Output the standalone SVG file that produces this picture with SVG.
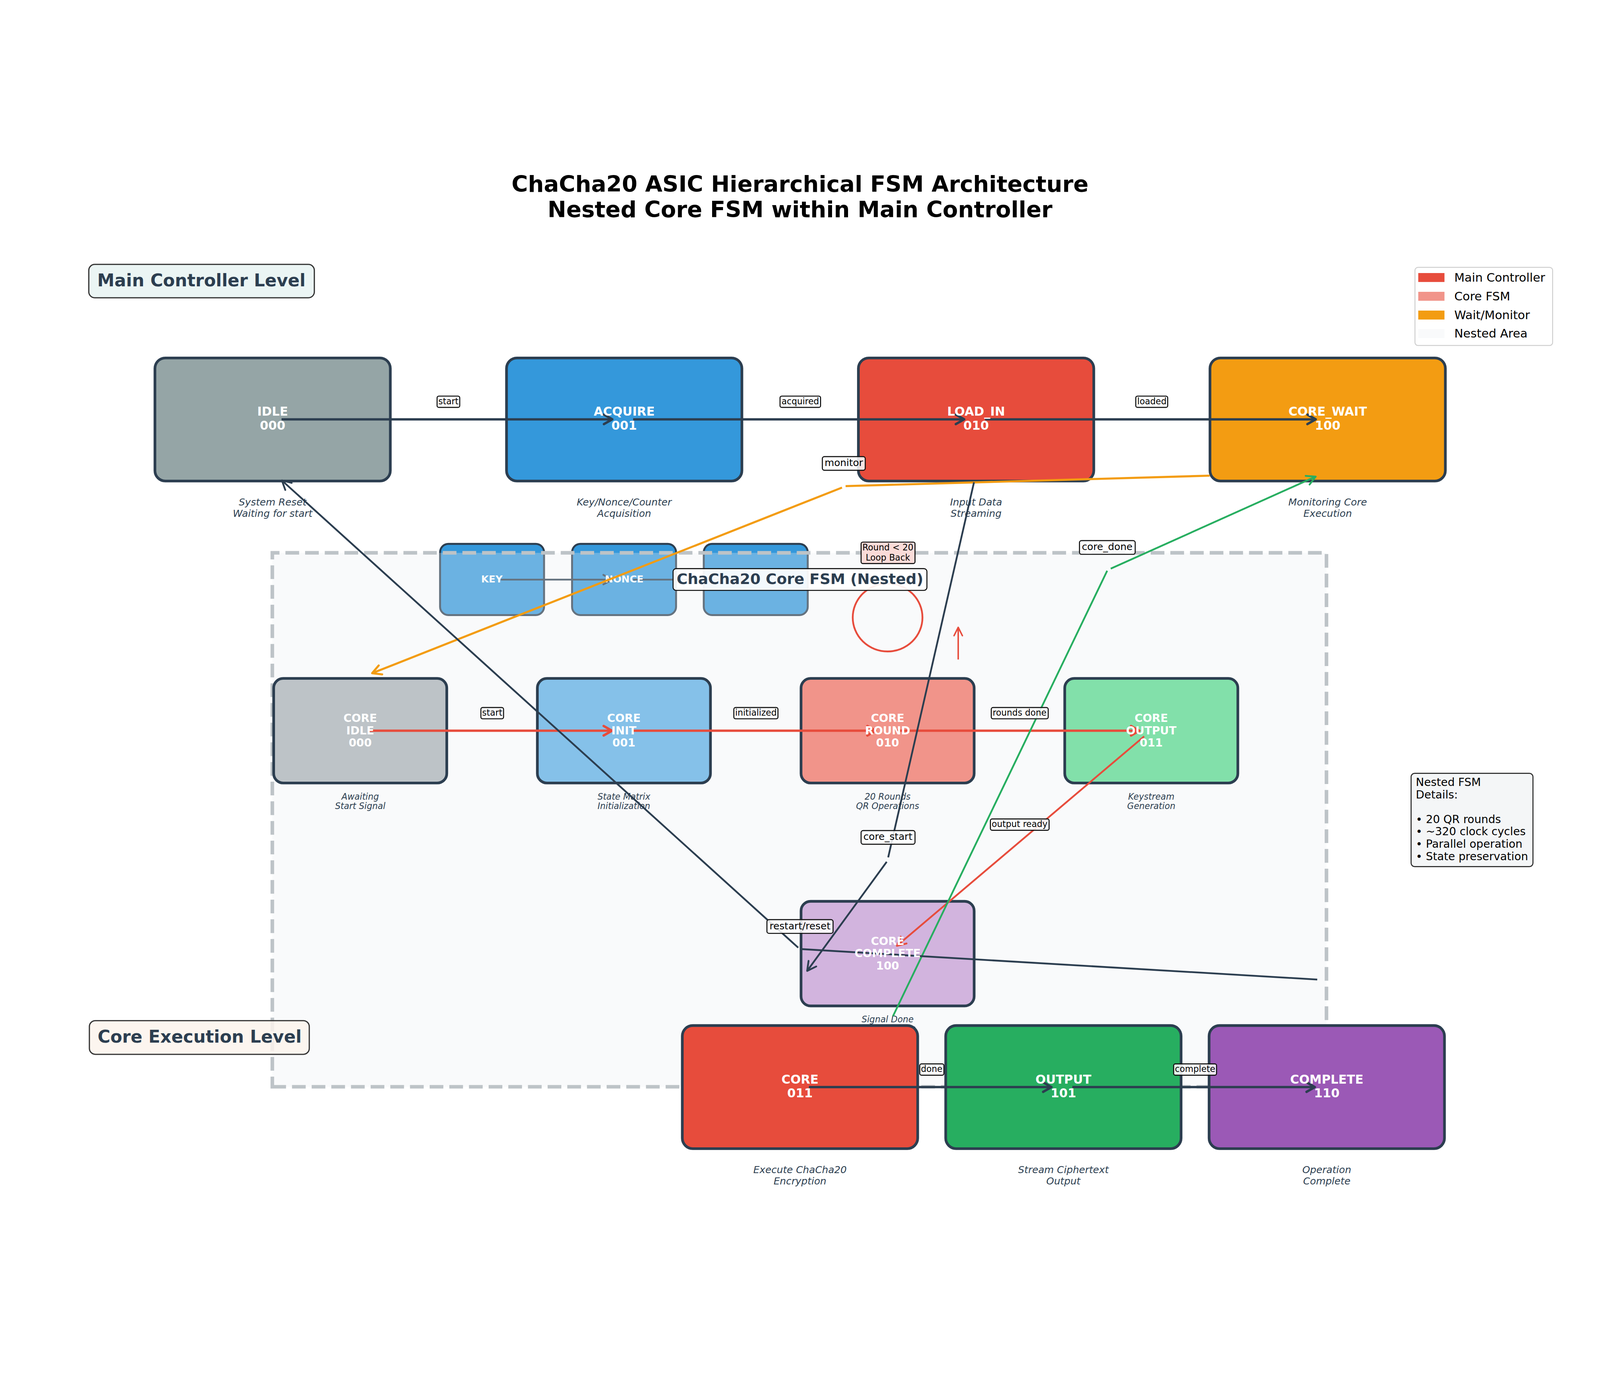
<svg xmlns="http://www.w3.org/2000/svg" width="5370" height="3571" viewBox="0 0 5370 3571" style="width:100vw;height:100vh;display:block" preserveAspectRatio="xMidYMid meet">
<defs>
<style>
text{font-family:"DejaVu Sans","Liberation Sans",sans-serif;}
.title{font-size:75px;font-weight:bold;fill:#000;text-anchor:middle;}
.lvl rect{stroke:#333333;stroke-width:4;}
.lvl text{font-size:58px;font-weight:bold;fill:#2c3e50;text-anchor:middle;}
.box{stroke:#2c3e50;stroke-width:9;}
.sbox{stroke:#2c3e50;stroke-width:6.5;fill:#3498db;}
.nl{font-weight:bold;fill:#ffffff;text-anchor:middle;}
.big{font-size:41px;}
.cor{font-size:37px;}
.sm{font-size:33px;}
.desc{font-style:italic;fill:#2c3e50;text-anchor:middle;}
.d8{font-size:33px;}
.d7{font-size:29px;}
.lab rect{fill:#ffffff;fill-opacity:0.85;stroke:#111111;stroke-width:3.5;}
.lab text{fill:#000;text-anchor:middle;}
.l7 text{font-size:29px;}
.l8 text{font-size:33px;}
.c{fill:none;stroke-linecap:butt;}
.dk8{stroke:#2c3e50;stroke-width:8;}
.dk6{stroke:#2c3e50;stroke-width:6;}
.rd8{stroke:#e74c3c;stroke-width:8;}
.rd6{stroke:#e74c3c;stroke-width:6;}
.og{stroke:#f39c12;stroke-width:7;}
.gn{stroke:#27ae60;stroke-width:6;}
.mh{fill:none;stroke-linecap:round;stroke-linejoin:round;}
.leg text{font-size:40px;fill:#000;}
.det text{font-size:37px;fill:#000;}
</style>
<marker id="m-dk8" viewBox="-45 -30 60 60" refX="0" refY="0" markerWidth="60" markerHeight="60" markerUnits="userSpaceOnUse" orient="auto"><path class="mh" d="M-28,-16 L0,0 L-28,16" stroke="#2c3e50" stroke-width="8"/></marker>
<marker id="m-dk6" viewBox="-45 -30 60 60" refX="0" refY="0" markerWidth="60" markerHeight="60" markerUnits="userSpaceOnUse" orient="auto"><path class="mh" d="M-30,-16 L0,0 L-30,16" stroke="#2c3e50" stroke-width="6"/></marker>
<marker id="m-rd8" viewBox="-45 -30 60 60" refX="0" refY="0" markerWidth="60" markerHeight="60" markerUnits="userSpaceOnUse" orient="auto"><path class="mh" d="M-28,-16 L0,0 L-28,16" stroke="#e74c3c" stroke-width="8"/></marker>
<marker id="m-rd6" viewBox="-45 -30 60 60" refX="0" refY="0" markerWidth="60" markerHeight="60" markerUnits="userSpaceOnUse" orient="auto"><path class="mh" d="M-30,-15 L0,0 L-30,15" stroke="#e74c3c" stroke-width="6"/></marker>
<marker id="m-rd5" viewBox="-45 -30 60 60" refX="0" refY="0" markerWidth="60" markerHeight="60" markerUnits="userSpaceOnUse" orient="auto"><path class="mh" d="M-28,-14 L0,0 L-28,14" stroke="#e74c3c" stroke-width="5"/></marker>
<marker id="m-og" viewBox="-45 -30 60 60" refX="0" refY="0" markerWidth="60" markerHeight="60" markerUnits="userSpaceOnUse" orient="auto"><path class="mh" d="M-30,-16 L0,0 L-30,16" stroke="#f39c12" stroke-width="7"/></marker>
<marker id="m-gn" viewBox="-45 -30 60 60" refX="0" refY="0" markerWidth="60" markerHeight="60" markerUnits="userSpaceOnUse" orient="auto"><path class="mh" d="M-30,-16 L0,0 L-30,16" stroke="#27ae60" stroke-width="6"/></marker>
</defs>
<rect x="0" y="0" width="5370" height="3571" fill="#ffffff"/>

<g id="title">
<text class="title" x="2685" y="89">ChaCha20 ASIC Hierarchical FSM Architecture</text>
<text class="title" x="2685" y="174">Nested Core FSM within Main Controller</text>
</g>

<g id="level-main" class="lvl">
<rect x="298" y="332" width="757" height="112" rx="20" fill="#ebf5f4"/>
<text x="676" y="405">Main Controller Level</text>
</g>

<!-- top row nodes -->
<g id="node-idle">
<rect class="box" x="520" y="646" width="790" height="413" rx="35" fill="#95a5a6"/>
<text class="desc d8" x="915" y="1141">System Reset</text>
<text class="desc d8" x="915" y="1179">Waiting for start</text>
</g>
<g id="node-acquire">
<rect class="box" x="1700" y="646" width="790" height="413" rx="35" fill="#3498db"/>
<text class="desc d8" x="2095" y="1141">Key/Nonce/Counter</text>
<text class="desc d8" x="2095" y="1179">Acquisition</text>
</g>
<g id="node-load-in">
<rect class="box" x="2881" y="646" width="790" height="413" rx="35" fill="#e74c3c"/>
<text class="desc d8" x="3276" y="1141">Input Data</text>
<text class="desc d8" x="3276" y="1179">Streaming</text>
</g>
<g id="node-core-wait">
<rect class="box" x="4061" y="646" width="790" height="413" rx="35" fill="#f39c12"/>
<text class="desc d8" x="4456" y="1141">Monitoring Core</text>
<text class="desc d8" x="4456" y="1179">Execution</text>
</g>

<!-- data boxes under the nested area overlay -->
<g id="node-key">
<rect class="sbox" x="1477" y="1270" width="349" height="239" rx="28"/>
</g>
<g id="node-nonce">
<rect class="sbox" x="1920" y="1270" width="349" height="239" rx="28"/>
</g>
<g id="node-counter">
<rect class="sbox" x="2362" y="1270" width="349" height="239" rx="28"/>
</g>
<g id="data-connectors">
<path class="c dk6" d="M1681,1390 H2055" marker-end="url(#m-dk6)"/>
<path class="c dk6" d="M2125,1390 H2497" marker-end="url(#m-dk6)"/>
</g>
<g id="data-labels">
<text class="nl sm" x="1651" y="1399">KEY</text>
<text class="nl sm" x="2095" y="1399">NONCE</text>
</g>

<g id="nested-area">
<path d="M914,3092 H4452 V1300 H914 Z" fill="#ecf0f1" fill-opacity="0.3" stroke="#bdc3c7" stroke-width="12" stroke-dasharray="46 20"/>
</g>

<!-- core FSM nodes -->
<g id="node-core-idle">
<rect class="box" x="918.5" y="1721.5" width="581" height="351" rx="32" fill="#bdc3c7"/>
<text class="desc d7" x="1209" y="2128">Awaiting</text>
<text class="desc d7" x="1209" y="2160">Start Signal</text>
</g>
<g id="node-core-init">
<rect class="box" x="1803.5" y="1721.5" width="581" height="351" rx="32" fill="#85c1e9"/>
<text class="desc d7" x="2094" y="2128">State Matrix</text>
<text class="desc d7" x="2094" y="2160">Initialization</text>
</g>
<g id="node-core-round">
<rect class="box" x="2688.5" y="1721.5" width="581" height="351" rx="32" fill="#f1948a"/>
<text class="desc d7" x="2979" y="2128">20 Rounds</text>
<text class="desc d7" x="2979" y="2160">QR Operations</text>
</g>
<g id="node-core-output">
<rect class="box" x="3573.5" y="1721.5" width="581" height="351" rx="32" fill="#82e0aa"/>
<text class="desc d7" x="3864" y="2128">Keystream</text>
<text class="desc d7" x="3864" y="2160">Generation</text>
</g>
<g id="node-core-complete">
<rect class="box" x="2688.5" y="2469.5" width="581" height="351" rx="32" fill="#d2b4de"/>
<text class="desc d7" x="2979" y="2876">Signal Done</text>
<text class="desc d7" x="2979" y="2907">to Controller</text>
</g>

<!-- bottom row nodes -->
<g id="node-core">
<rect class="box" x="2290" y="2886.5" width="790" height="413" rx="35" fill="#e74c3c"/>
<text class="desc d8" x="2685" y="3382">Execute ChaCha20</text>
<text class="desc d8" x="2685" y="3420">Encryption</text>
</g>
<g id="node-output">
<rect class="box" x="3174" y="2886.5" width="790" height="413" rx="35" fill="#27ae60"/>
<text class="desc d8" x="3569" y="3382">Stream Ciphertext</text>
<text class="desc d8" x="3569" y="3420">Output</text>
</g>
<g id="node-complete">
<rect class="box" x="4058" y="2886.5" width="790" height="413" rx="35" fill="#9b59b6"/>
<text class="desc d8" x="4453" y="3382">Operation</text>
<text class="desc d8" x="4453" y="3420">Complete</text>
</g>

<g id="level-core" class="lvl">
<rect x="300" y="2870" width="738" height="113" rx="20" fill="#fcf3ec" fill-opacity="0.85"/>
<text x="670" y="2944">Core Execution Level</text>
</g>

<g id="round-loop">
<ellipse cx="2979" cy="1517" rx="117" ry="114" fill="none" stroke="#e74c3c" stroke-width="6"/>
<path class="c" d="M3216,1658 V1550" stroke="#e74c3c" stroke-width="5" marker-end="url(#m-rd5)"/>
</g>

<g id="nested-title">
<rect x="2259" y="1353" width="852" height="73" rx="10" fill="#ffffff" fill-opacity="0.92" stroke="#111111" stroke-width="3.5"/>
<text x="2685" y="1404" font-size="50" font-weight="bold" fill="#2c3e50" text-anchor="middle">ChaCha20 Core FSM (Nested)</text>
</g>

<g id="connectors">
<!-- main controller row -->
<path class="c dk8" d="M945,852 H2055" marker-end="url(#m-dk8)"/>
<path class="c dk8" d="M2125,852 H3236" marker-end="url(#m-dk8)"/>
<path class="c dk8" d="M3306,852 H4416" marker-end="url(#m-dk8)"/>
<!-- core row -->
<path class="c rd8" d="M1239,1897 H2054" marker-end="url(#m-rd8)"/>
<path class="c rd8" d="M2124,1897 H2939" marker-end="url(#m-rd8)"/>
<path class="c rd8" d="M3009,1897 H3824" marker-end="url(#m-rd8)"/>
<!-- bottom row -->
<path class="c dk8" d="M2715,3093 H3529" marker-end="url(#m-dk8)"/>
<path class="c dk8" d="M3599,3093 H4413" marker-end="url(#m-dk8)"/>
<!-- output ready -->
<path class="c rd6" d="M3840,1916 L3010,2619" marker-end="url(#m-rd6)"/>
<!-- monitor -->
<path class="c og" d="M4060,1041 L2838,1076"/>
<path class="c og" d="M2826,1081 L1249,1704" marker-end="url(#m-og)"/>
<!-- core_start -->
<path class="c dk6" d="M3269,1063 L2981,2322"/>
<path class="c dk6" d="M2976,2337 L2709,2703" marker-end="url(#m-dk6)"/>
<!-- core_done -->
<path class="c gn" d="M2997,2855 L3716,1360"/>
<path class="c gn" d="M3728,1353 L4416,1044" marker-end="url(#m-gn)"/>
<!-- restart/reset -->
<path class="c dk6" d="M4421,2732 L2692,2630"/>
<path class="c dk6" d="M2679,2625 L946,1057" marker-end="url(#m-dk6)"/>
</g>

<g id="connector-labels">
<g class="lab l7"><rect x="1467" y="774" width="76" height="38" rx="6"/><text x="1505" y="801">start</text></g>
<g class="lab l7"><rect x="2618" y="774" width="136" height="38" rx="6"/><text x="2686" y="801">acquired</text></g>
<g class="lab l7"><rect x="3812" y="774" width="107" height="38" rx="6"/><text x="3866" y="801">loaded</text></g>
<g class="lab l7"><rect x="1614" y="1819" width="76" height="38" rx="6"/><text x="1652" y="1846">start</text></g>
<g class="lab l7"><rect x="2463" y="1819" width="148" height="38" rx="6"/><text x="2537" y="1846">initialized</text></g>
<g class="lab l7"><rect x="3327" y="1819" width="191" height="38" rx="6"/><text x="3422" y="1846">rounds done</text></g>
<g class="lab l7"><rect x="3324" y="2193" width="197" height="38" rx="6"/><text x="3422" y="2220">output ready</text></g>
<g class="lab l7"><rect x="3087" y="3015" width="81" height="38" rx="6"/><text x="3127" y="3042">done</text></g>
<g class="lab l7"><rect x="3939" y="3015" width="144" height="38" rx="6"/><text x="4011" y="3042">complete</text></g>
<g class="lab l8"><rect x="2760" y="977" width="144" height="46" rx="7"/><text x="2832" y="1009">monitor</text></g>
<g class="lab l8"><rect x="2890" y="2232" width="181" height="46" rx="7"/><text x="2980" y="2264">core_start</text></g>
<g class="lab l8"><rect x="3623" y="1259" width="187" height="46" rx="7"/><text x="3716" y="1291">core_done</text></g>
<g class="lab l8"><rect x="2574" y="2531" width="222" height="46" rx="7"/><text x="2685" y="2563">restart/reset</text></g>
</g>

<g id="node-labels">
<g id="label-idle"><text class="nl big" x="915" y="840">IDLE</text><text class="nl big" x="915" y="887">000</text></g>
<g id="label-acquire"><text class="nl big" x="2095" y="840">ACQUIRE</text><text class="nl big" x="2095" y="887">001</text></g>
<g id="label-load-in"><text class="nl big" x="3276" y="840">LOAD_IN</text><text class="nl big" x="3276" y="887">010</text></g>
<g id="label-core-wait"><text class="nl big" x="4456" y="840">CORE_WAIT</text><text class="nl big" x="4456" y="887">100</text></g>
<g id="label-core-idle"><text class="nl cor" x="1209" y="1868">CORE</text><text class="nl cor" x="1209" y="1909">IDLE</text><text class="nl cor" x="1209" y="1950">000</text></g>
<g id="label-core-init"><text class="nl cor" x="2094" y="1868">CORE</text><text class="nl cor" x="2094" y="1909">INIT</text><text class="nl cor" x="2094" y="1950">001</text></g>
<g id="label-core-round"><text class="nl cor" x="2979" y="1868">CORE</text><text class="nl cor" x="2979" y="1909">ROUND</text><text class="nl cor" x="2979" y="1950">010</text></g>
<g id="label-core-output"><text class="nl cor" x="3864" y="1868">CORE</text><text class="nl cor" x="3864" y="1909">OUTPUT</text><text class="nl cor" x="3864" y="1950">011</text></g>
<g id="label-core-complete"><text class="nl cor" x="2979" y="2616">CORE</text><text class="nl cor" x="2979" y="2657">COMPLETE</text><text class="nl cor" x="2979" y="2698">100</text></g>
<g id="label-core"><text class="nl big" x="2685" y="3081">CORE</text><text class="nl big" x="2685" y="3128">011</text></g>
<g id="label-output"><text class="nl big" x="3569" y="3081">OUTPUT</text><text class="nl big" x="3569" y="3128">101</text></g>
<g id="label-complete"><text class="nl big" x="4453" y="3081">COMPLETE</text><text class="nl big" x="4453" y="3128">110</text></g>
</g>

<g id="loop-label">
<rect x="2890" y="1264" width="181" height="72" rx="6" fill="#fadbd8" stroke="#111111" stroke-width="3.5"/>
<text x="2980" y="1292" font-size="29" fill="#000" text-anchor="middle">Round &lt; 20</text>
<text x="2980" y="1326" font-size="29" fill="#000" text-anchor="middle">Loop Back</text>
</g>

<g id="legend" class="leg">
<rect x="4749" y="342" width="462" height="262" rx="10" fill="#ffffff" fill-opacity="0.8" stroke="#cccccc" stroke-width="3"/>
<rect x="4760" y="361" width="88" height="30" fill="#e74c3c"/>
<rect x="4760" y="424" width="88" height="30" fill="#f1948a"/>
<rect x="4760" y="487" width="88" height="30" fill="#f39c12"/>
<rect x="4760" y="549" width="88" height="30" fill="#ecf0f1" fill-opacity="0.3"/>
<text x="4881" y="390">Main Controller</text>
<text x="4881" y="453">Core FSM</text>
<text x="4881" y="516">Wait/Monitor</text>
<text x="4881" y="578">Nested Area</text>
</g>

<g id="details" class="det">
<rect x="4736" y="2040" width="409" height="313" rx="12" fill="#f4f6f7" stroke="#2b2b2b" stroke-width="3.5"/>
<text x="4752" y="2082">Nested FSM</text>
<text x="4752" y="2124">Details:</text>
<text x="4752" y="2207">• 20 QR rounds</text>
<text x="4752" y="2248">• ~320 clock cycles</text>
<text x="4752" y="2289">• Parallel operation</text>
<text x="4752" y="2331">• State preservation</text>
</g>
</svg>
